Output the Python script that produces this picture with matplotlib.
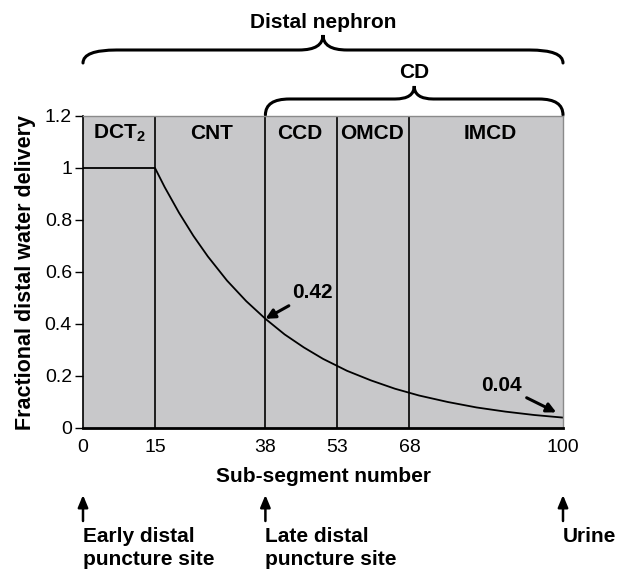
import matplotlib.pyplot as plt
from matplotlib.path import Path
from matplotlib.patches import PathPatch
from matplotlib.transforms import blended_transform_factory
from matplotlib.ticker import FuncFormatter

plt.rcParams['font.family'] = ['Liberation Sans', 'DejaVu Sans']
plt.rcParams['mathtext.fontset'] = 'custom'
plt.rcParams['mathtext.rm'] = 'Liberation Sans'
plt.rcParams['mathtext.bf'] = 'Liberation Sans:bold'

# --- données ---
sub_segment = [0, 15, 17, 20, 23, 26, 30, 34, 38, 42, 46, 50, 55, 60, 65, 70, 76, 82, 88, 94, 100]
water_delivery = [1.0, 1.0, 0.927, 0.828, 0.739, 0.660, 0.567, 0.488, 0.42, 0.360, 0.310, 0.266,
                  0.220, 0.183, 0.151, 0.125, 0.100, 0.079, 0.063, 0.050, 0.040]
boundaries = [15, 38, 53, 68]
segment_names = [r"$\mathbf{DCT_2}$", "CNT", "CCD", "OMCD", "IMCD"]
segment_centers = [7.5, 26.7, 45.2, 60.2, 84.8]
xtick_values = [0, 15, 38, 53, 68, 100]
puncture_x = [0, 38, 100]
puncture_labels = ["Early distal\npuncture site", "Late distal\npuncture site", "Urine"]

W, H = 617, 575
BIG = 15
fig = plt.figure(figsize=(W / 100, H / 100), dpi=100)
ax = fig.add_axes([83 / W, 1 - 428 / H, 480 / W, 312 / H])
ax.set_facecolor("#c8c8ca")

for b in boundaries:
    ax.axvline(b, color="black", lw=1.2)
ax.plot(sub_segment, water_delivery, color="black", lw=1.3)

ax.set_xlim(0, 100)
ax.set_ylim(0, 1.2)
ax.set_xticks(xtick_values)
ax.set_yticks([0, 0.2, 0.4, 0.6, 0.8, 1.0, 1.2])
ax.yaxis.set_major_formatter(FuncFormatter(lambda v, p: "%g" % v))
ax.tick_params(axis="x", length=0, pad=8, labelsize=14)
ax.tick_params(axis="y", length=6, width=1, pad=2, labelsize=14)

ax.spines["left"].set_linewidth(1.2)
ax.spines["bottom"].set_linewidth(2)
for s in ["top", "right"]:
    ax.spines[s].set_color("#8a8a8a")
    ax.spines[s].set_linewidth(1)

ax.set_xlabel("Sub-segment number", fontsize=BIG, fontweight="bold", labelpad=8)
ax.set_ylabel("Fractional distal water delivery", fontsize=15.5, fontweight="bold", labelpad=6)

# noms des segments
for name, xc in zip(segment_names, segment_centers):
    ax.text(xc, 1.111, name, ha="center", va="baseline", fontsize=BIG, fontweight="bold")

# flèches des valeurs
ax.annotate("0.42", xy=(38, 0.42), xytext=(43.5, 0.52), fontsize=BIG, fontweight="bold",
            ha="left", va="center",
            arrowprops=dict(arrowstyle="-|>", color="black", lw=2.2, mutation_scale=14,
                            shrinkA=1, shrinkB=0))
ax.annotate("0.04", xy=(98.6, 0.06), xytext=(87.1, 0.165), fontsize=BIG, fontweight="bold",
            ha="center", va="center",
            arrowprops=dict(arrowstyle="-|>", color="black", lw=2.2, mutation_scale=14,
                            shrinkA=2, shrinkB=0))

# accolades au-dessus
tr = blended_transform_factory(ax.transData, fig.transFigure)


def brace(x0, x1, y_end, y_flat, y_tip, curl, tip):
    fy = lambda py: 1 - py / H
    xm = (x0 + x1) / 2
    verts = [(x0, fy(y_end)), (x0, fy(y_flat)), (x0 + curl, fy(y_flat)),
             (xm - tip, fy(y_flat)), (xm, fy(y_flat)), (xm, fy(y_tip)),
             (xm, fy(y_flat)), (xm + tip, fy(y_flat)),
             (x1 - curl, fy(y_flat)), (x1, fy(y_flat)), (x1, fy(y_end))]
    codes = [Path.MOVETO, Path.CURVE3, Path.CURVE3,
             Path.LINETO, Path.CURVE3, Path.CURVE3,
             Path.CURVE3, Path.CURVE3,
             Path.LINETO, Path.CURVE3, Path.CURVE3]
    patch = PathPatch(Path(verts, codes), transform=tr, fill=False, lw=2.2,
                      edgecolor="black", clip_on=False, capstyle="round")
    ax.add_patch(patch)


brace(0, 100, 63, 50, 35, 7, 5)
ax.text(50, 1 - 22 / H, "Distal nephron", transform=tr, ha="center", va="center",
        fontsize=BIG, fontweight="bold")
brace(38, 100, 115, 99, 86, 5, 4)
ax.text(69, 1 - 73 / H, "CD", transform=tr, ha="center", va="center",
        fontsize=BIG, fontweight="bold")

# sites de ponction
for px, lab in zip(puncture_x, puncture_labels):
    ax.annotate("", xy=(px, 1 - 495 / H), xytext=(px, 1 - 521 / H), xycoords=tr, textcoords=tr,
                arrowprops=dict(arrowstyle="-|>,head_width=0.25,head_length=0.6", color="black",
                                lw=1.8, mutation_scale=12, shrinkA=0, shrinkB=0))
    ax.text(px, 1 - 527 / H, lab, transform=tr, ha="left", va="top",
            fontsize=BIG, fontweight="bold", linespacing=1.25)

fig.savefig("out.png", dpi=100)
